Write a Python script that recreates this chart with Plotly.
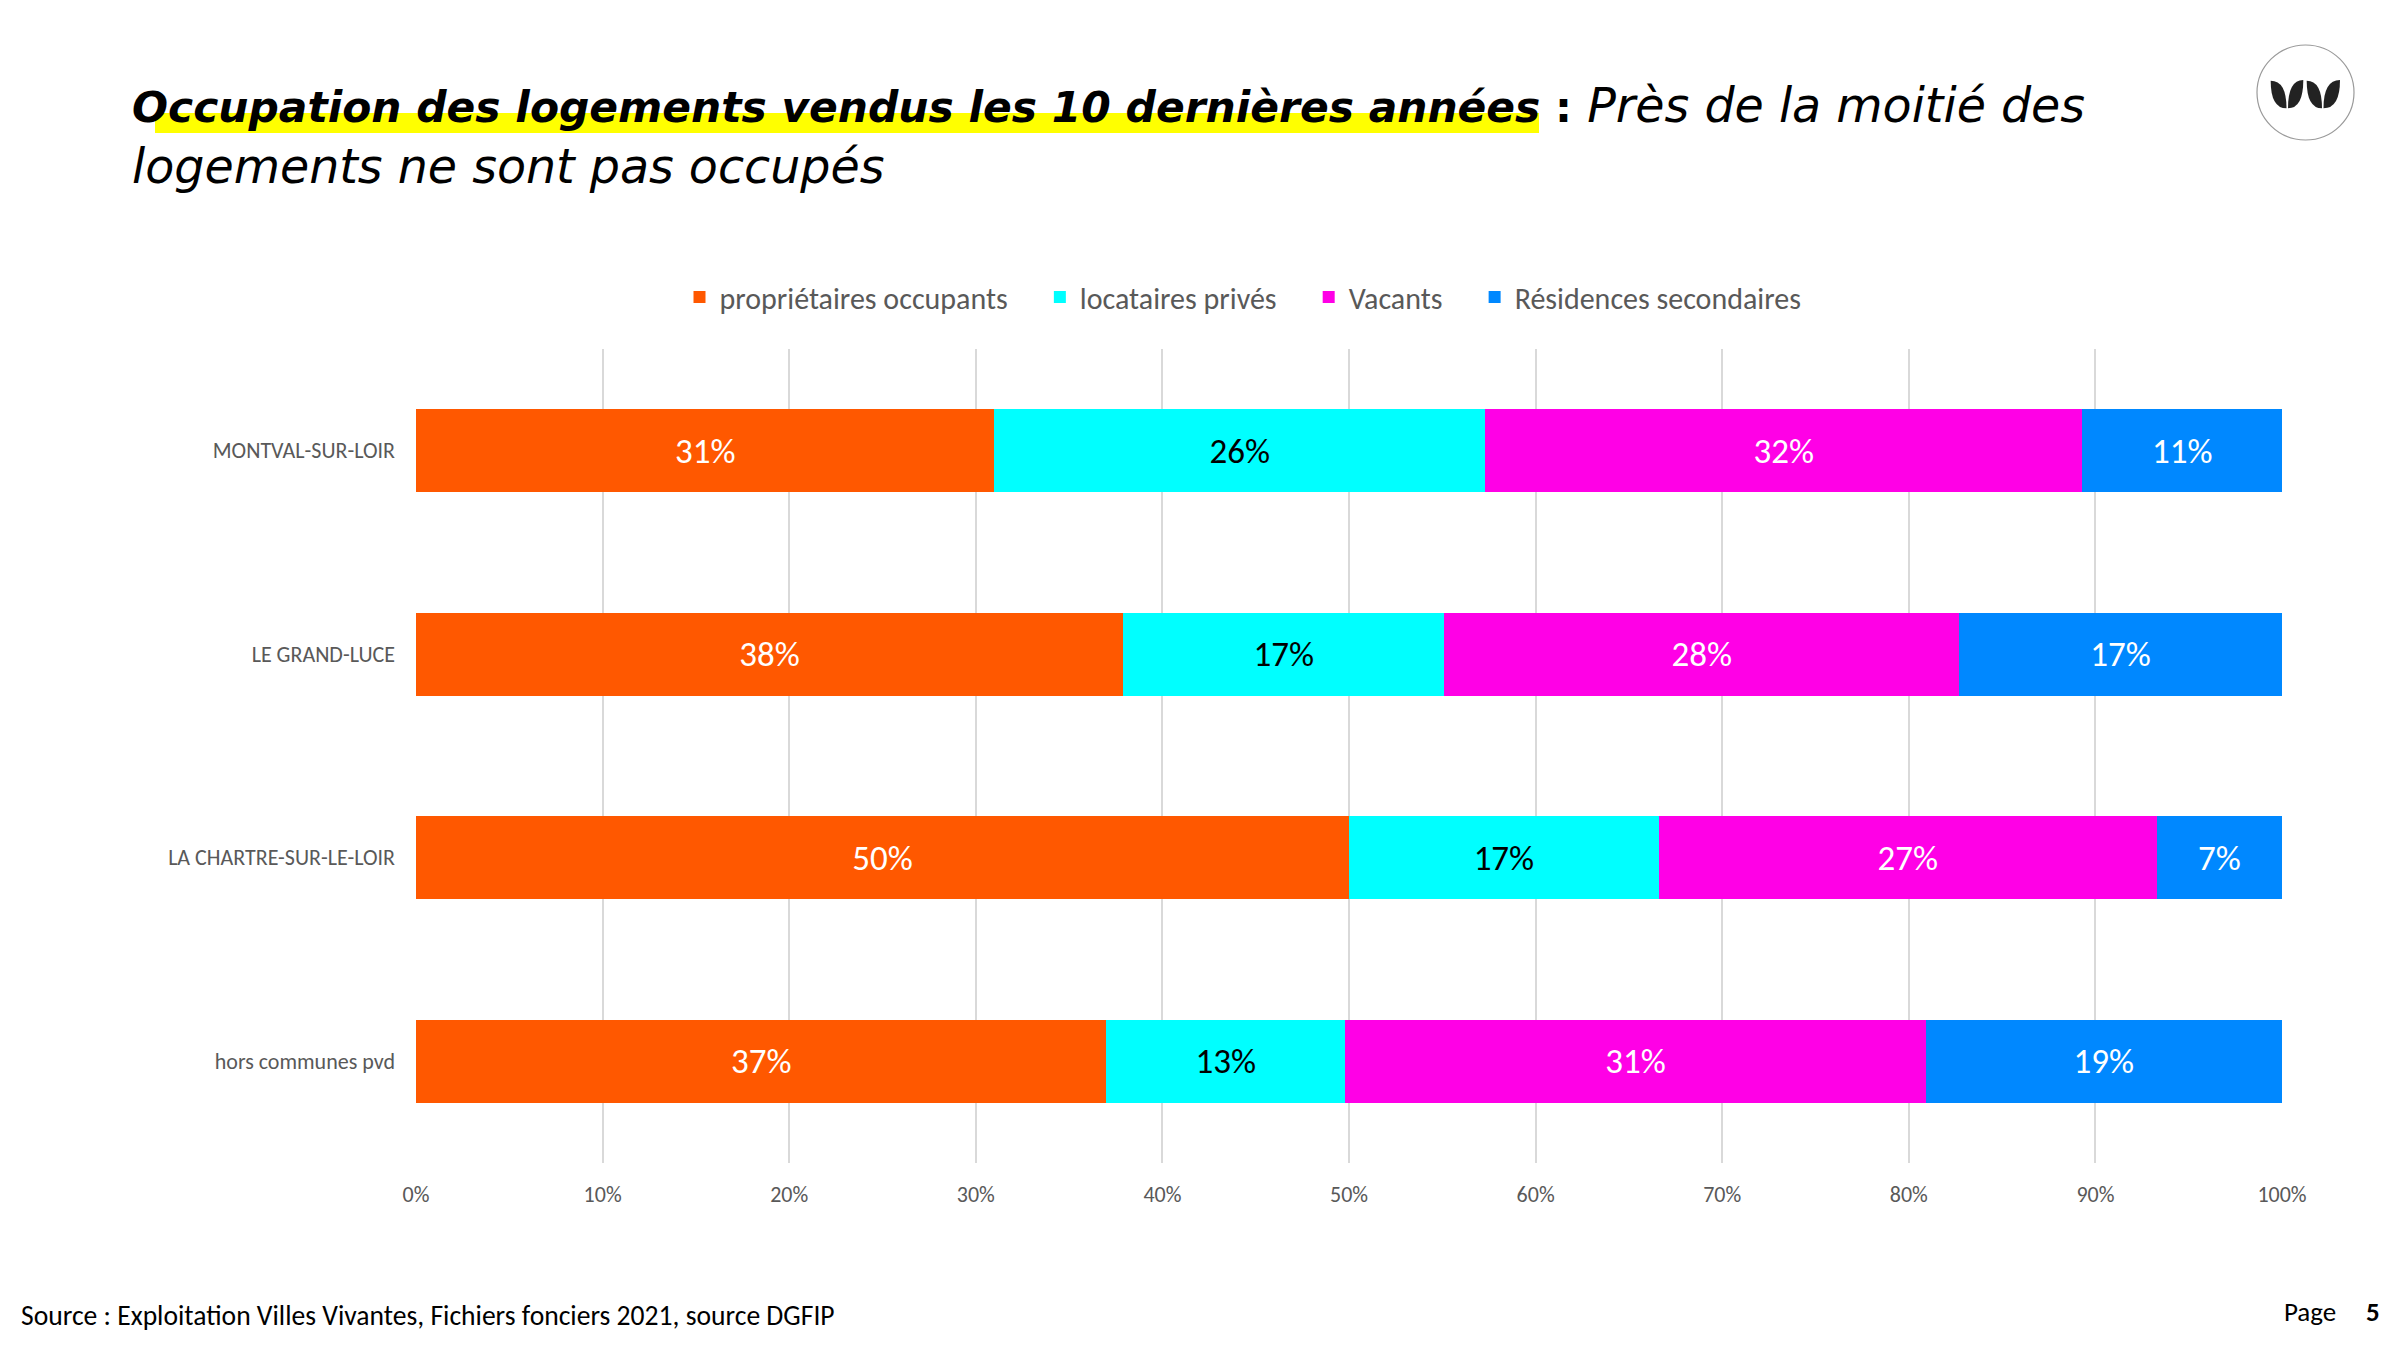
import plotly.graph_objects as go

# ---------------- data ----------------
categories = ["MONTVAL-SUR-LOIR", "LE GRAND-LUCE", "LA CHARTRE-SUR-LE-LOIR", "hors communes pvd"]
series_names = ["propriétaires occupants", "locataires privés", "Vacants", "Résidences secondaires"]
proprietaires_occupants = [31.0, 37.9, 50.0, 37.0]
locataires_prives = [26.3, 17.2, 16.6, 12.8]
vacants = [32.0, 27.6, 26.7, 31.1]
residences_secondaires = [10.7, 17.3, 6.7, 19.1]
tick_values = [0, 10, 20, 30, 40, 50, 60, 70, 80, 90, 100]
tick_labels = ["0%", "10%", "20%", "30%", "40%", "50%", "60%", "70%", "80%", "90%", "100%"]

series_values = [proprietaires_occupants, locataires_prives, vacants, residences_secondaires]
colors = ["#FF5800", "#00FFFF", "#FF00E6", "#0088FF"]
text_colors = ["#FFFFFF", "#000000", "#FFFFFF", "#FFFFFF"]

# ---------------- layout geometry ----------------
W, H = 2400, 1350
L, R, T, B = 416, 118, 349, 187
PW, PH = W - L - R, H - T - B


def px(x):
    return (x - L) / PW


def py(y):
    return (H - B - y) / PH


BODY_FONT = "Calibri, Carlito, 'Open Sans', sans-serif"
TITLE_FONT = "'DejaVu Sans', sans-serif"
GRAY = "#595959"

fig = go.Figure()
n_series = len(series_names)
for i, (name, vals, c, tc) in enumerate(zip(series_names, series_values, colors, text_colors)):
    # trailing non-breaking spaces widen the gap between legend entries
    legend_name = name + ("\u00a0" * 4 if i < n_series - 1 else "")
    fig.add_trace(go.Bar(
        y=categories, x=vals, name=legend_name, orientation="h",
        marker=dict(color=c, line=dict(width=0)),
        texttemplate="%{x:.0f}%", textposition="inside", insidetextanchor="middle",
        textangle=0, constraintext="none",
        textfont=dict(family=BODY_FONT, size=35, color=tc),
        hoverinfo="skip",
    ))

shapes = []
# yellow highlight under the bold part of title
shapes.append(dict(type="rect", xref="paper", yref="paper",
                   x0=px(155), x1=px(1539), y0=py(133), y1=py(113),
                   fillcolor="#FFFF00", line=dict(width=0), layer="below"))
# logo circle
shapes.append(dict(type="circle", xref="paper", yref="paper",
                   x0=px(2257), x1=px(2354), y0=py(140), y1=py(45),
                   fillcolor="white", line=dict(color="#9A9A9A", width=1.2)))


def leaf(ax, ay, bx, by):
    c1 = (ax, by)
    c2 = (bx, ay)
    return (f"M {px(ax)},{py(ay)} Q {px(c1[0])},{py(c1[1])} {px(bx)},{py(by)} "
            f"Q {px(c2[0])},{py(c2[1])} {px(ax)},{py(ay)} Z")


leaves = [
    (2270.7, 80.7, 2286.5, 108.3),
    (2303.3, 80.0, 2288.0, 108.3),
    (2306.7, 80.7, 2322.0, 108.3),
    (2340.0, 80.0, 2323.5, 108.3),
]
for lf in leaves:
    shapes.append(dict(type="path", xref="paper", yref="paper", path=leaf(*lf),
                       fillcolor="#222222", line=dict(width=0)))

title_text = (
    "<span style='font-size:42.4px'><b><i>Occupation des logements vendus les 10 dernières années</i> :</b></span>"
    "<span style='font-size:47.5px'><i> Près de la moitié des</i></span><br>"
    "<span style='font-size:47.5px'><i>logements ne sont pas occupés</i></span>"
)

annotations = [
    dict(text=title_text, align="left",
         xref="paper", yref="paper", x=px(130), y=py(136), xanchor="left", yanchor="middle",
         showarrow=False, font=dict(family=TITLE_FONT, size=47, color="#000000")),
    dict(text="Source : Exploitation Villes Vivantes, Fichiers fonciers 2021, source DGFIP",
         xref="paper", yref="paper", x=px(19), y=py(1315), xanchor="left", yanchor="middle",
         showarrow=False, font=dict(family=BODY_FONT, size=27.6, color="#000000")),
    dict(text="Page", xref="paper", yref="paper", x=px(2282), y=py(1311), xanchor="left", yanchor="middle",
         showarrow=False, font=dict(family=BODY_FONT, size=27, color="#000000")),
    dict(text="<b>5</b>", xref="paper", yref="paper", x=px(2364), y=py(1311), xanchor="left", yanchor="middle",
         showarrow=False, font=dict(family=BODY_FONT, size=27, color="#000000")),
]

fig.update_layout(
    width=W, height=H,
    margin=dict(l=L, r=R, t=T, b=B, pad=0),
    paper_bgcolor="white", plot_bgcolor="white",
    barmode="stack", bargap=0.59,
    showlegend=True,
    legend=dict(orientation="h", x=px(1243), xanchor="center", y=py(297), yanchor="middle",
                font=dict(family=BODY_FONT, size=30, color=GRAY), traceorder="normal",
                itemclick=False, itemdoubleclick=False),
    xaxis=dict(range=[0, 100], tickvals=tick_values, ticktext=tick_labels,
               showgrid=True, gridcolor="#D9D9D9", gridwidth=2, zeroline=False, showline=False,
               tickfont=dict(family=BODY_FONT, size=22, color=GRAY), ticks="", ticklabelstandoff=16,
               fixedrange=True),
    yaxis=dict(autorange="reversed", showgrid=False, zeroline=False, showline=False,
               tickfont=dict(family=BODY_FONT, size=22, color=GRAY), ticks="", ticklabelstandoff=20,
               fixedrange=True),
    shapes=shapes, annotations=annotations,
)

fig.write_html("out.html", config={"displayModeBar": False})
